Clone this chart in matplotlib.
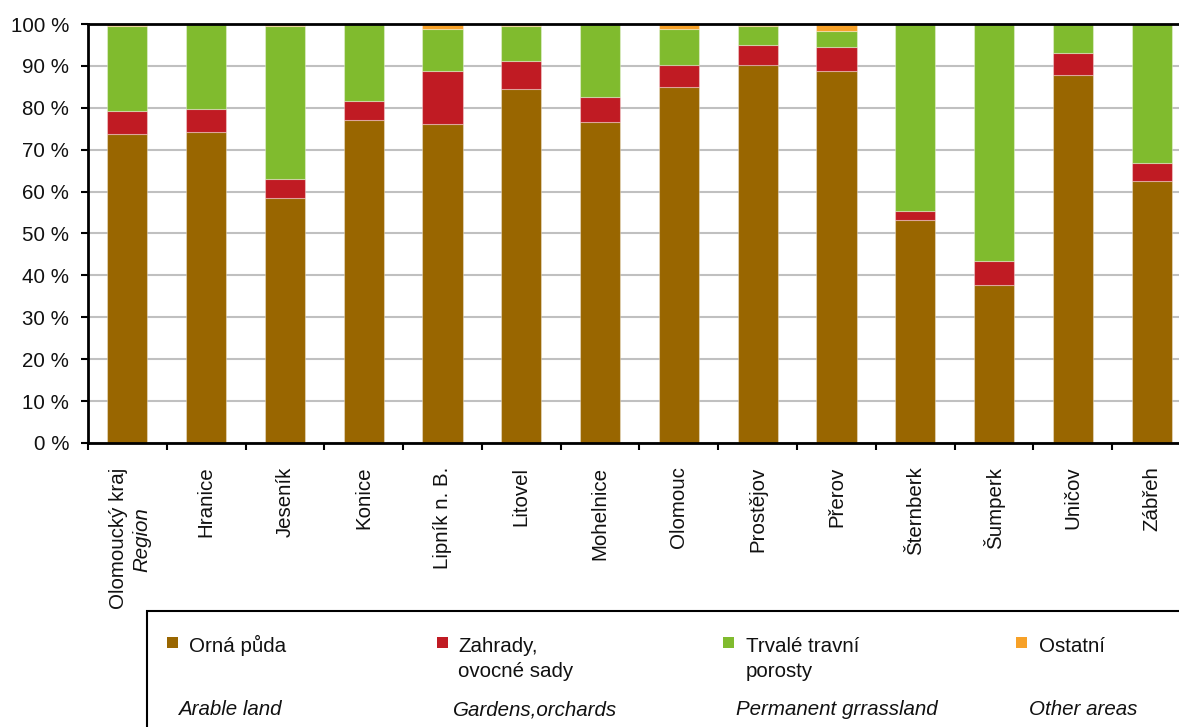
import matplotlib
matplotlib.use('Agg')
import matplotlib.pyplot as plt
import matplotlib.transforms as mtransforms
from matplotlib.patches import Rectangle
import numpy as np

# data (shares in %)
districts = ['Olomoucký kraj', 'Hranice', 'Jeseník', 'Konice', 'Lipník n. B.', 'Litovel',
             'Mohelnice', 'Olomouc', 'Prostějov', 'Přerov', 'Šternberk', 'Šumperk',
             'Uničov', 'Zábřeh']
orna = [73.7, 74.2, 58.4, 77.0, 76.1, 84.6, 76.5, 85.0, 90.2, 88.8, 53.2, 37.7, 87.8, 62.6]
zahrady = [5.6, 5.5, 4.7, 4.7, 12.7, 6.6, 6.1, 5.2, 4.8, 5.7, 2.2, 5.7, 5.3, 4.2]
ostatni = [0.4, 0.05, 0.4, 0.05, 1.2, 0.4, 0.05, 1.2, 0.4, 1.7, 0.05, 0.05, 0.05, 0.05]
trvale = [100 - o - z - s for o, z, s in zip(orna, zahrady, ostatni)]

series_cz = ['Orná půda', 'Zahrady,\novocné sady', 'Trvalé travní\nporosty', 'Ostatní']
series_en = ['Arable land', 'Gardens,orchards', 'Permanent grrassland', 'Other areas']
colors = ['#996600', '#C01B23', '#80BB2E', '#F7A128']

plt.rcParams['font.family'] = ['Liberation Sans', 'DejaVu Sans']
FS = 14.8

W, H = 1179, 727
fig = plt.figure(figsize=(W / 100, H / 100), dpi=100)
ax = fig.add_axes([88 / W, 1 - 443 / H, 1103 / W, 419 / H])

def px(x, y):
    return x / W, 1 - y / H

x = np.arange(len(districts))
bottom = np.zeros(len(districts))
for vals, c in zip([orna, zahrady, trvale, ostatni], colors):
    ax.bar(x, vals, width=0.51, bottom=bottom, color=c,
           edgecolor=(1, 1, 1, 0.35), linewidth=0.8, zorder=2)
    bottom += np.array(vals)

ax.set_xlim(-0.5, len(districts) - 0.5)
ax.set_ylim(0, 100)
ax.set_yticks(range(0, 101, 10))
ax.set_yticklabels([f'{v} %' for v in range(0, 101, 10)], fontsize=FS, color='#111111')
ax.yaxis.grid(True, color='#C0C0C0', linewidth=1.5, zorder=0)
ax.set_axisbelow(True)

# category boundaries as major ticks, names as minor tick labels
ax.set_xticks(np.arange(-0.5, len(districts), 1.0))
ax.set_xticklabels([])
ax.set_xticks(x, minor=True)
ax.set_xticklabels([''] + districts[1:], minor=True, rotation=90, fontsize=FS, color='#111111')
ax.tick_params(axis='x', which='minor', length=0, pad=17)
ax.tick_params(axis='x', which='major', length=5, width=1.5, direction='out')
ax.tick_params(axis='y', length=5, width=1.5, direction='out', pad=8.5)

for side in ['left', 'bottom', 'top']:
    ax.spines[side].set_linewidth(2)
    ax.spines[side].set_color('black')
    ax.spines[side].set_zorder(3)
ax.spines['right'].set_visible(False)

# first label in two lines, the second italic
base = mtransforms.blended_transform_factory(ax.transData, ax.transAxes)
t1 = base + mtransforms.ScaledTranslation(-9 / 100, -25 / 100, fig.dpi_scale_trans)
ax.text(0, 0, districts[0], transform=t1, rotation=90, ha='center', va='top',
        fontsize=FS, color='#111111')
t2 = base + mtransforms.ScaledTranslation(14 / 100, -97 / 100, fig.dpi_scale_trans)
ax.text(0, 0, 'Region', transform=t2, rotation=90, ha='center', va='center',
        fontsize=FS, style='italic', color='#111111')

# legend box
x0, y0 = px(147, 611)
fig.add_artist(Rectangle((x0, y0 - 0.5), 1.0, 0.5, transform=fig.transFigure,
                         facecolor='white', edgecolor='black', linewidth=1.5))

sq_x = [167, 437, 723, 1016]
txt_x = [189, 458, 746, 1039]
en_x = [178, 453, 736, 1029]
for c, sx, tx, ex, cz, en in zip(colors, sq_x, txt_x, en_x, series_cz, series_en):
    fx, fy = px(sx, 648)
    fig.add_artist(Rectangle((fx, fy), 11 / W, 11 / H, transform=fig.transFigure,
                             facecolor=c, edgecolor='none'))
    for k, line in enumerate(cz.split('\n')):
        fig.text(*px(tx, 652 + 25 * k), line, fontsize=FS, va='baseline', color='#111111')
    fig.text(*px(ex, 715), en, fontsize=FS, va='baseline', style='italic', color='#111111')

plt.savefig('out.png', dpi=100)
